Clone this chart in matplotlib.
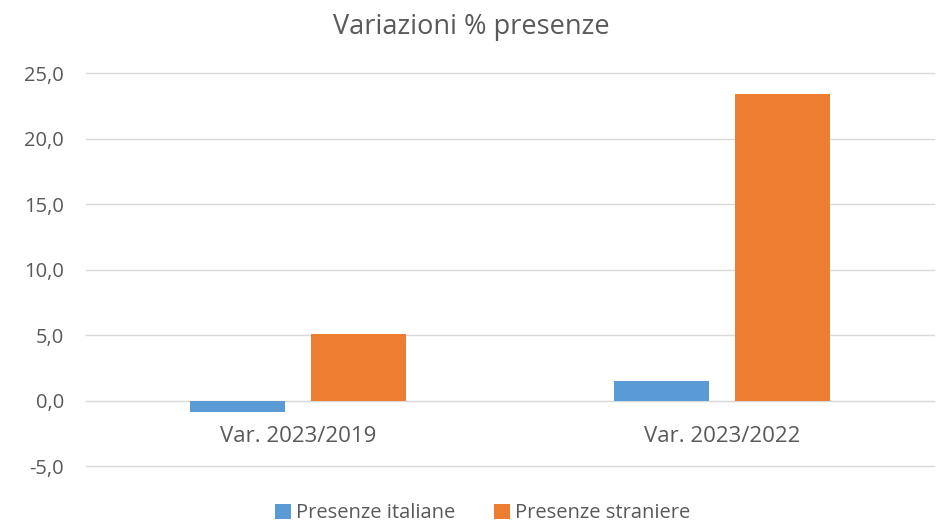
import matplotlib
matplotlib.use("Agg")
import matplotlib.pyplot as plt
import numpy as np

plt.rcParams['font.family'] = ['Open Sans', 'DejaVu Sans']

# dati
categorie = ["Var. 2023/2019", "Var. 2023/2022"]
italiane = [-0.9, 1.5]
straniere = [5.1, 23.4]
serie_nomi = ["Presenze italiane", "Presenze straniere"]
yticks = [-5, 0, 5, 10, 15, 20, 25]

fig = plt.figure(figsize=(9.42, 5.29), dpi=100)
ax = fig.add_axes([0.0913, 0.119, 0.9002, 0.7424])

x = np.arange(len(categorie))
w = 0.224
off = 0.1425
ax.bar(x - off, italiane, w, color='#5B9BD5', label=serie_nomi[0], zorder=3)
ax.bar(x + off, straniere, w, color='#ED7D31', label=serie_nomi[1], zorder=3)

ax.set_xlim(-0.5, 1.5)
ax.set_ylim(-5, 25)
ax.set_yticks(yticks)
ax.set_yticklabels([f"{v:.1f}".replace('.', ',') for v in yticks])
ax.set_xticks(x)
ax.set_xticklabels(categorie)

ax.grid(axis='y', color='#D9D9D9', linewidth=1, zorder=0)
for gl in ax.get_ygridlines():
    gl.set_clip_on(False)
for s in ['top', 'right', 'left']:
    ax.spines[s].set_visible(False)
ax.spines['bottom'].set_position(('data', 0))
ax.spines['bottom'].set_color('#D9D9D9')
ax.tick_params(axis='both', length=0, colors='#595959')
ax.tick_params(axis='x', labelsize=16, pad=18)
ax.tick_params(axis='y', labelsize=14.5, pad=16)

fig.suptitle("Variazioni % presenze", y=0.975, fontsize=19.5, color='#595959')

ax.legend(loc='upper center', bbox_to_anchor=(0.468, -0.062), ncol=2, frameon=False,
          fontsize=14.5, labelcolor='#595959', handlelength=0.8, handleheight=0.8,
          handletextpad=0.25, columnspacing=1.9, borderpad=0.15)

fig.savefig("out.png", dpi=100)
